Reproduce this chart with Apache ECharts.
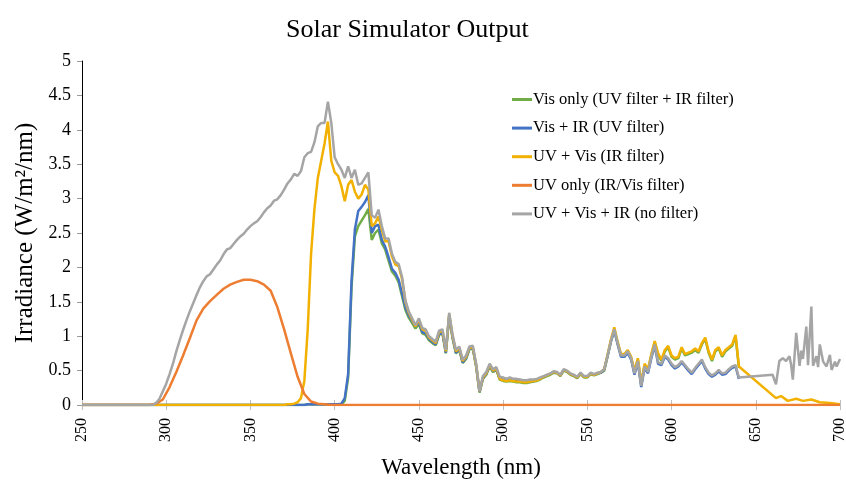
<!DOCTYPE html>
<html>
<head>
<meta charset="utf-8">
<script src="https://cdn.jsdelivr.net/npm/echarts@6/dist/echarts.min.js"></script>
<style>
html, body { margin: 0; background: #fff; }
#chart { width: 846px; height: 481px; }
</style>
</head>
<body>
<div id="chart"></div>
<script>
// wavelength grid (nm) shared by the filtered series
const wavelengths = [250,
  290, 292, 294, 296, 298,
  300, 302, 304, 306, 308, 310, 312, 314, 316, 318,
  320, 322, 324, 326, 328, 330, 332, 334, 336, 338,
  340, 342, 344, 346, 348, 350, 352, 354, 356, 358,
  360, 362, 364, 366, 368, 370, 372, 374, 376, 378,
  380, 382, 384, 386, 388, 390, 392, 394, 396, 398,
  400, 402, 404, 406, 408, 410, 412, 414, 416, 418,
  420, 422, 424, 426, 428, 430, 432, 434, 436, 438,
  440, 442, 444, 446, 448, 450, 452, 454, 456, 458,
  460, 462, 464, 466, 468, 470, 472, 474, 476, 478,
  480, 482, 484, 486, 488, 490, 492, 494, 496, 498,
  500, 502, 504, 506, 508, 510, 512, 514, 516, 518,
  520, 522, 524, 526, 528, 530, 532, 534, 536, 538,
  540, 542, 544, 546, 548, 550, 552, 554, 556, 558,
  560, 562, 564, 566, 568, 570, 572, 574, 576, 578,
  580, 582, 584, 586, 588, 590, 592, 594, 596, 598,
  600, 602, 604, 606, 608, 610, 612, 614, 616, 618,
  620, 622, 624, 626, 628, 630, 632, 634, 636, 638,
  640];

const visOnly = [0,
  0, 0, 0, 0, 0,
  0, 0, 0, 0, 0, 0, 0, 0, 0, 0,
  0, 0, 0, 0, 0, 0, 0, 0, 0, 0,
  0, 0, 0, 0, 0, 0, 0, 0, 0, 0,
  0, 0, 0, 0, 0, 0, 0, 0, 0, 0,
  0, 0, 0.01, 0.01, 0.01, 0.01, 0.01, 0.01, 0.01, 0.01,
  0.01, 0.01, 0.01, 0.06, 0.4, 1.7, 2.45, 2.6, 2.68, 2.76,
  2.85, 2.4, 2.5, 2.55, 2.35, 2.26, 2.1, 1.94, 1.88, 1.78,
  1.58, 1.38, 1.27, 1.19, 1.11, 1.18, 1.04, 1.02, 0.94, 0.9,
  0.87, 1.02, 1.04, 0.75, 1.29, 0.97, 0.75, 0.8, 0.61, 0.67,
  0.81, 0.82, 0.56, 0.18, 0.38, 0.44, 0.56, 0.48, 0.51, 0.37,
  0.35, 0.34, 0.35, 0.34, 0.33, 0.33, 0.32, 0.32, 0.33, 0.34,
  0.35, 0.37, 0.4, 0.42, 0.44, 0.47, 0.46, 0.42, 0.5, 0.48,
  0.44, 0.42, 0.39, 0.45, 0.4, 0.4, 0.45, 0.43, 0.45, 0.47,
  0.5, 0.71, 0.93, 1.1, 0.9, 0.72, 0.72, 0.78, 0.68, 0.48,
  0.66, 0.3, 0.58, 0.5, 0.72, 0.91, 0.73, 0.64, 0.78, 0.84,
  0.7, 0.66, 0.68, 0.82, 0.72, 0.74, 0.76, 0.8, 0.76, 0.88,
  0.96, 0.76, 0.64, 0.78, 0.82, 0.7, 0.78, 0.82, 0.86, 1.0,
  0.54];

const visIr = [0,
  0, 0, 0, 0, 0,
  0, 0, 0, 0, 0, 0, 0, 0, 0, 0,
  0, 0, 0, 0, 0, 0, 0, 0, 0, 0,
  0, 0, 0, 0, 0, 0, 0, 0, 0, 0,
  0, 0, 0, 0, 0, 0, 0, 0, 0, 0,
  0, 0, 0.01, 0.01, 0.01, 0.01, 0.01, 0.01, 0.01, 0.01,
  0.01, 0.01, 0.02, 0.1, 0.45, 1.8, 2.55, 2.82, 2.88, 2.95,
  3.05, 2.5, 2.6, 2.62, 2.4, 2.3, 2.15, 1.98, 1.92, 1.82,
  1.62, 1.42, 1.3, 1.22, 1.14, 1.2, 1.06, 1.04, 0.96, 0.92,
  0.88, 1.03, 1.05, 0.76, 1.3, 0.98, 0.76, 0.81, 0.62, 0.68,
  0.82, 0.83, 0.57, 0.19, 0.39, 0.45, 0.57, 0.49, 0.52, 0.38,
  0.37, 0.36, 0.37, 0.36, 0.35, 0.35, 0.34, 0.34, 0.35, 0.35,
  0.37, 0.39, 0.41, 0.43, 0.45, 0.48, 0.47, 0.43, 0.51, 0.49,
  0.45, 0.43, 0.4, 0.46, 0.41, 0.41, 0.46, 0.44, 0.46, 0.47,
  0.51, 0.71, 0.92, 1.08, 0.88, 0.7, 0.7, 0.76, 0.66, 0.44,
  0.62, 0.26, 0.54, 0.46, 0.68, 0.86, 0.6, 0.58, 0.7, 0.66,
  0.58, 0.53, 0.56, 0.62, 0.56, 0.5, 0.45, 0.52, 0.58, 0.64,
  0.53, 0.45, 0.41, 0.44, 0.49, 0.44, 0.45, 0.5, 0.54, 0.56,
  0.38];

const uvVis = [0,
  0, 0, 0, 0, 0,
  0, 0, 0, 0, 0, 0, 0, 0, 0, 0,
  0, 0, 0, 0, 0, 0, 0, 0, 0, 0,
  0, 0, 0, 0, 0, 0, 0, 0, 0, 0,
  0, 0, 0, 0, 0, 0, 0.01, 0.01, 0.02, 0.04,
  0.1, 0.35, 1.1, 2.2, 2.85, 3.3, 3.55, 3.8, 4.12, 3.55,
  3.38, 3.33, 3.18, 2.96, 3.2, 3.27, 3.1, 3.0, 3.06, 3.2,
  3.13, 2.6, 2.64, 2.74, 2.55, 2.38, 2.38, 2.16, 2.04, 2.02,
  1.83, 1.5, 1.34, 1.24, 1.14, 1.24, 1.1, 1.08, 0.98, 0.94,
  0.9, 1.06, 1.08, 0.78, 1.32, 1.0, 0.78, 0.83, 0.64, 0.7,
  0.83, 0.84, 0.58, 0.2, 0.4, 0.46, 0.58, 0.5, 0.53, 0.38,
  0.36, 0.35, 0.36, 0.35, 0.34, 0.34, 0.33, 0.33, 0.34, 0.35,
  0.36, 0.38, 0.41, 0.43, 0.45, 0.48, 0.47, 0.43, 0.51, 0.49,
  0.45, 0.43, 0.4, 0.46, 0.41, 0.41, 0.46, 0.44, 0.46, 0.48,
  0.52, 0.73, 0.95, 1.13, 0.92, 0.74, 0.74, 0.8, 0.7, 0.5,
  0.68, 0.32, 0.6, 0.52, 0.74, 0.93, 0.75, 0.66, 0.8, 0.86,
  0.72, 0.68, 0.7, 0.84, 0.74, 0.76, 0.78, 0.82, 0.78, 0.9,
  0.98, 0.78, 0.66, 0.8, 0.84, 0.72, 0.8, 0.84, 0.88, 1.02,
  0.56];

const fullSpectrum = [0,
  0, 0, 0.03, 0.09, 0.2,
  0.31, 0.45, 0.6, 0.78, 0.94, 1.09, 1.23, 1.36, 1.48, 1.6,
  1.71, 1.8, 1.87, 1.9, 1.97, 2.04, 2.1, 2.19, 2.26, 2.28,
  2.34, 2.4, 2.45, 2.49, 2.55, 2.6, 2.64, 2.67, 2.73, 2.8,
  2.86, 2.9, 2.97, 2.99, 3.05, 3.13, 3.22, 3.28, 3.36, 3.33,
  3.4, 3.6, 3.66, 3.68, 3.82, 4.05, 4.1, 4.1, 4.41, 4.1,
  3.6, 3.5, 3.42, 3.3, 3.47, 3.3, 3.42, 3.2, 3.22, 3.3,
  3.38, 2.76, 2.72, 2.84, 2.6, 2.42, 2.42, 2.2, 2.08, 2.05,
  1.86, 1.52, 1.36, 1.26, 1.16, 1.26, 1.12, 1.1, 1.0, 0.96,
  0.92, 1.08, 1.1, 0.8, 1.34, 1.02, 0.8, 0.85, 0.66, 0.72,
  0.85, 0.86, 0.6, 0.2, 0.42, 0.48, 0.6, 0.52, 0.55, 0.41,
  0.4, 0.38, 0.4, 0.38, 0.38, 0.37, 0.36, 0.36, 0.37, 0.37,
  0.38, 0.4, 0.42, 0.44, 0.46, 0.49, 0.48, 0.44, 0.52, 0.5,
  0.46, 0.44, 0.41, 0.47, 0.42, 0.42, 0.47, 0.45, 0.47, 0.48,
  0.52, 0.72, 0.93, 1.1, 0.9, 0.72, 0.72, 0.78, 0.68, 0.46,
  0.64, 0.28, 0.56, 0.48, 0.7, 0.88, 0.62, 0.6, 0.72, 0.68,
  0.6, 0.55, 0.58, 0.64, 0.58, 0.52, 0.47, 0.54, 0.6, 0.66,
  0.55, 0.47, 0.43, 0.46, 0.51, 0.46, 0.47, 0.52, 0.56, 0.58,
  0.4];

// sparse readings past 640 nm
const uvVisTailWl = [662, 665, 669, 674, 678, 683, 688, 694, 700];
const uvVisTail = [0.1, 0.13, 0.06, 0.09, 0.06, 0.08, 0.04, 0.03, 0.01];

const fullTailWl = [660, 662, 664, 666, 668, 670, 671, 672, 674, 676, 677, 678, 680,
  681, 683, 684, 686, 687, 688, 690, 692, 694, 695, 697, 698, 700];
const fullTail = [0.44, 0.3, 0.64, 0.68, 0.64, 0.71, 0.58, 0.37, 1.05, 0.57, 0.79, 0.67, 1.14,
  0.58, 1.43, 0.57, 0.71, 0.55, 0.88, 0.63, 0.56, 0.73, 0.51, 0.63, 0.56, 0.67];

// UV-only run has its own coarser grid
const uvWl = [250, 290, 294, 298, 302, 306, 310, 314, 318, 322, 326, 330, 334, 338, 342,
  346, 350, 354, 358, 362, 366, 370, 374, 378, 382, 386, 390, 394, 398, 700];
const uvOnly = [0, 0, 0.02, 0.08, 0.26, 0.48, 0.72, 0.97, 1.23, 1.4, 1.51, 1.6, 1.69, 1.75, 1.79,
  1.82, 1.82, 1.8, 1.75, 1.66, 1.42, 1.1, 0.75, 0.41, 0.16, 0.05, 0.02, 0.01, 0, 0];

const seriesNames = ['Vis only (UV filter + IR filter)', 'Vis + IR (UV filter)',
  'UV + Vis (IR filter)', 'UV only (IR/Vis filter)', 'UV + Vis + IR (no filter)'];
const colors = ['#70AD47', '#4472C4', '#F2B100', '#ED7D31', '#A5A5A5'];

function pairs(xs, ys) {
  return ys.map(function (y, i) { return [xs[i], y]; });
}

const seriesData = [
  pairs(wavelengths, visOnly),
  pairs(wavelengths, visIr),
  pairs(wavelengths, uvVis).concat(pairs(uvVisTailWl, uvVisTail)),
  pairs(uvWl, uvOnly),
  pairs(wavelengths, fullSpectrum).concat(pairs(fullTailWl, fullTail))
];

const font = 'Liberation Serif';

option = {
  backgroundColor: '#fff',
  animation: false,
  color: colors,
  title: {
    text: 'Solar Simulator Output',
    left: 281,
    top: 12,
    textStyle: { fontFamily: font, fontSize: 26, fontWeight: 'normal', color: '#000' }
  },
  legend: {
    orient: 'vertical',
    left: 512,
    top: 91,
    padding: 0,
    itemWidth: 20,
    itemHeight: 3,
    itemGap: 11.6,
    icon: 'rect',
    textStyle: { fontFamily: font, fontSize: 16.5, color: '#000', padding: [0, 0, 0, -4] },
    data: seriesNames
  },
  grid: { left: 82, right: 6, top: 61, bottom: 76, outerBoundsMode: 'none' },
  xAxis: [{
    type: 'value',
    min: 250,
    max: 700,
    interval: 50,
    name: 'Wavelength (nm)',
    nameLocation: 'middle',
    nameGap: 51,
    nameTextStyle: { fontFamily: font, fontSize: 23, color: '#000' },
    axisLine: { lineStyle: { color: '#bfbfbf' } },
    axisTick: { length: 5, lineStyle: { color: '#bfbfbf' } },
    axisLabel: { rotate: 90, margin: 13, fontFamily: font, fontSize: 16, color: '#000' },
    splitLine: { show: false }
  }, {
    type: 'value',
    position: 'bottom',
    min: 250,
    max: 700,
    interval: 50,
    axisLine: { show: false },
    axisTick: { inside: true, length: 5, lineStyle: { color: '#bfbfbf' } },
    axisLabel: { show: false },
    splitLine: { show: false }
  }],
  yAxis: {
    type: 'value',
    min: 0,
    max: 5,
    interval: 0.5,
    name: 'Irradiance (W/m²/nm)',
    nameLocation: 'middle',
    nameGap: 41,
    nameRotate: 90,
    nameTextStyle: { fontFamily: font, fontSize: 25, color: '#000' },
    axisLine: { show: true, lineStyle: { color: '#000' } },
    axisTick: { show: true, length: 5, lineStyle: { color: '#999' } },
    axisLabel: { margin: 11, fontFamily: font, fontSize: 18, color: '#000' },
    splitLine: { show: false }
  },
  series: seriesNames.map(function (name, i) {
    return {
      name: name,
      type: 'line',
      xAxisIndex: 0,
      showSymbol: false,
      symbol: 'none',
      lineStyle: { width: 2.5, color: colors[i] },
      itemStyle: { color: colors[i] },
      data: seriesData[i]
    };
  })
};

const chart = echarts.init(document.getElementById('chart'));
chart.setOption(option);
</script>
</body>
</html>
